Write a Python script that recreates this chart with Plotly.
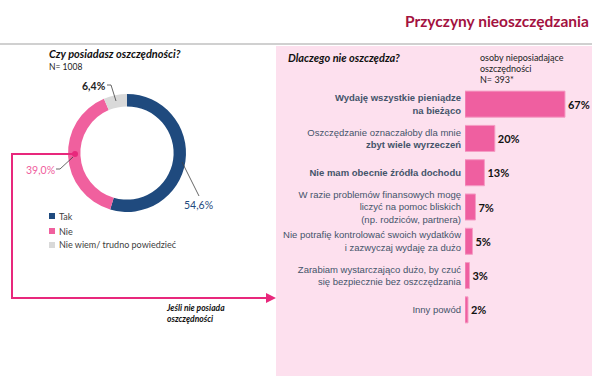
import plotly.graph_objects as go

W, H = 605, 376

# ---------------- data ----------------
pie_labels = ["Tak", "Nie", "Nie wiem/ trudno powiedzieć"]
pie_values = [54.6, 39.0, 6.4]
pie_colors = ["#1f4a7e", "#f0609e", "#d9d9d9"]

bar_categories = [
    "<b>Wydaję wszystkie pieniądze<br>na bieżąco</b>",
    "Oszczędzanie oznaczałoby dla mnie<br><b>zbyt wiele wyrzeczeń</b>",
    "<b>Nie mam obecnie źródła dochodu</b>",
    "W razie problemów finansowych mogę<br>liczyć na pomoc bliskich<br>(np. rodziców, partnera)",
    "Nie potrafię kontrolować swoich wydatków<br>i zazwyczaj wydaję za dużo",
    "Zarabiam wystarczająco dużo, by czuć<br>się bezpiecznie bez oszczędzania",
    "Inny powód",
]
bar_values = [67, 20, 13, 7, 5, 3, 2]

title_text = "Przyczyny nieoszczędzania"
left_q = "Czy posiadasz oszczędności?"
left_n = "N= 1008"
right_q = "Dlaczego nie oszczędza?"
right_note = ["osoby nieposiadające", "oszczędności", "N= 393*"]
arrow_note = "Jeśli nie posiada<br>oszczędności"


def px(x):
    return x / W


def py(y):
    return 1 - y / H


def fmt(v):
    return f"{v:.1f}".replace(".", ",") + "%"


CAL = "Lato, 'Open Sans', sans-serif"
ARIAL = "'Liberation Sans', Arial, sans-serif"
PINK_LINE = "#e8287c"

fig = go.Figure()

fig.add_trace(go.Pie(
    labels=pie_labels, values=pie_values, hole=0.79, sort=False,
    direction="clockwise", rotation=0,
    marker=dict(colors=pie_colors, line=dict(width=0)),
    textinfo="none", showlegend=False, hoverinfo="label+value",
    domain=dict(x=[px(68), px(186)], y=[py(213), py(93)]),
))

fig.add_trace(go.Bar(
    x=bar_values, y=bar_categories, orientation="h",
    marker=dict(color="#ef5fa0", line=dict(color="#f59cc4", width=1)),
    text=[f"{v}%" for v in bar_values], textposition="outside",
    texttemplate="<b>%{text}</b>",
    textfont=dict(family=CAL, size=11, color="#111111"),
    cliponaxis=False, showlegend=False,
    xaxis="x", yaxis="y",
))

shapes = [
    # pink panel
    dict(type="rect", xref="paper", yref="paper", x0=px(276), x1=px(592), y0=py(376), y1=py(46),
         fillcolor="#fde0ee", line=dict(width=0), layer="below"),
    # title rule
    dict(type="line", xref="paper", yref="paper", x0=px(0), x1=px(592), y0=py(44), y1=py(44),
         line=dict(color="#c0c0c0", width=1.5)),
    # leader lines
    dict(type="path", xref="paper", yref="paper",
         path=f"M {px(107)} {py(85)} L {px(111)} {py(85)} L {px(116)} {py(101)}",
         line=dict(color="#404040", width=0.8)),
    dict(type="path", xref="paper", yref="paper",
         path=f"M {px(56)} {py(169)} L {px(60)} {py(169)} L {px(73)} {py(157)}",
         line=dict(color="#404040", width=0.8)),
    dict(type="line", xref="paper", yref="paper", x0=px(182), y0=py(162), x1=px(199), y1=py(196),
         line=dict(color="#404040", width=0.8)),
    # pink connector
    dict(type="path", xref="paper", yref="paper",
         path=f"M {px(75)} {py(154)} L {px(12)} {py(154)} L {px(12)} {py(298)} L {px(270)} {py(298)}",
         line=dict(color=PINK_LINE, width=2)),
    dict(type="circle", xref="paper", yref="paper", x0=px(72), x1=px(78), y0=py(157), y1=py(151),
         fillcolor=PINK_LINE, line=dict(width=0)),
]

# manual legend
legend_y = [216, 231, 245]
for lab, col, yy in zip(pie_labels, pie_colors, legend_y):
    shapes.append(dict(type="rect", xref="paper", yref="paper", x0=px(49), x1=px(55),
                       y0=py(yy + 3), y1=py(yy - 3), fillcolor=col, line=dict(width=0)))


def ann(**kw):
    d = dict(xref="paper", yref="paper", showarrow=False)
    d.update(kw)
    return d


annotations = [
    ann(text=f"<b>{title_text}</b>", x=px(591), y=py(21), xanchor="right", yanchor="middle",
        font=dict(family=CAL, size=15.5, color="#a3123f")),
    ann(text=f"<b><i>{left_q}</i></b>", x=px(47), y=py(53), xanchor="left", yanchor="middle",
        font=dict(family=CAL, size=11, color="#111111")),
    ann(text=left_n, x=px(47), y=py(67), xanchor="left", yanchor="middle",
        font=dict(family=CAL, size=8.5, color="#222222")),
    ann(text=f"<b><i>{right_q}</i></b>", x=px(286), y=py(57), xanchor="left", yanchor="middle",
        font=dict(family=CAL, size=11, color="#111111")),
    ann(text=f"<b><i>{arrow_note}</i></b>", x=px(164), y=py(313), xanchor="left", yanchor="middle",
        align="left", font=dict(family=CAL, size=8.5, color="#111111")),
    # pie value labels
    ann(text=f"<b>{fmt(pie_values[2])}</b>", x=px(94), y=py(86), xanchor="center", yanchor="middle",
        font=dict(family=CAL, size=10.5, color="#222222")),
    ann(text=fmt(pie_values[1]), x=px(40), y=py(170), xanchor="center", yanchor="middle",
        font=dict(family=CAL, size=10.5, color="#f0609e")),
    ann(text=fmt(pie_values[0]), x=px(198), y=py(205), xanchor="center", yanchor="middle",
        font=dict(family=CAL, size=10.5, color="#1f4a7e")),
    # arrowhead of connector
    ann(text="", x=px(276), y=py(298), ax=-8, ay=0, showarrow=True, arrowhead=2,
        arrowsize=1, arrowwidth=2, arrowcolor=PINK_LINE),
]
for i, line in enumerate(right_note):
    annotations.append(ann(text=line, x=px(478), y=py(57 + i * 11.5), xanchor="left", yanchor="middle",
                           font=dict(family=CAL, size=9, color="#222222")))
for lab, yy in zip(pie_labels, legend_y):
    annotations.append(ann(text=lab, x=px(57), y=py(yy), xanchor="left", yanchor="middle",
                           font=dict(family=CAL, size=9, color="#404040")))

fig.update_layout(
    width=W, height=H, margin=dict(l=0, r=0, t=0, b=0),
    paper_bgcolor="white", plot_bgcolor="rgba(0,0,0,0)",
    showlegend=False, bargap=0.24,
    xaxis=dict(domain=[px(465), px(592)], range=[0, 85.1], visible=False, fixedrange=True),
    yaxis=dict(domain=[py(327), py(87)], autorange="reversed", showline=False, showgrid=False,
               ticks="", zeroline=False, ticklabelstandoff=3,
               tickfont=dict(family=ARIAL, size=9.5, color="#44546a"), anchor="x"),
    shapes=shapes, annotations=annotations,
)

fig.write_html("out.html", config=dict(displayModeBar=False),
               post_script="document.body.style.margin='0';document.body.style.overflow='hidden';")
